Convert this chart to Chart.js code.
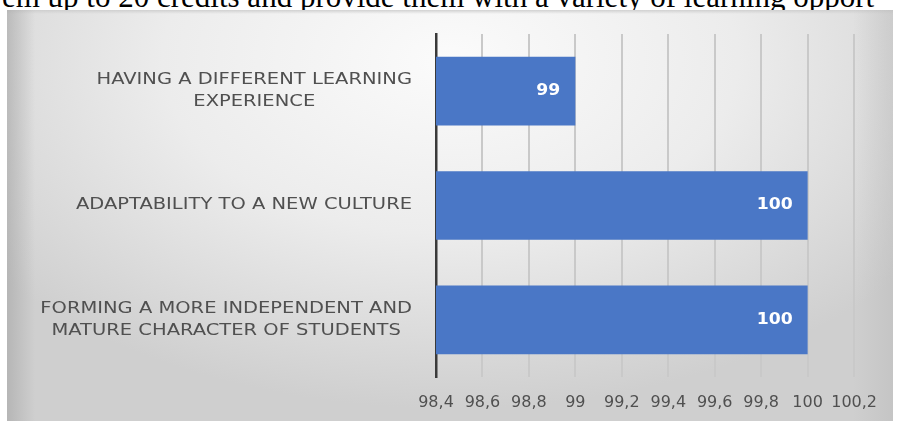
<!DOCTYPE html>
<html lang="en">
<head>
    <meta charset="UTF-8">
    <title>Benefits chart</title>
    <script src="https://cdn.jsdelivr.net/npm/chart.js"></script>
    <style>
        html, body {
            margin: 0;
            padding: 0;
            background: #ffffff;
            width: 898px;
            height: 421px;
            overflow: hidden;
            position: relative;
        }
        #topline {
            position: absolute;
            left: 2px;
            top: -16px;
            font-family: "Liberation Serif", serif;
            font-size: 31px;
            line-height: 26px;
            color: #000;
            white-space: nowrap;
        }
        #box {
            position: absolute;
            left: 7px;
            top: 10px;
            width: 886px;
            height: 411px;
            background:
                linear-gradient(to right, rgba(165,165,165,0.6) 0px, rgba(200,200,200,0) 28px),
                linear-gradient(to left, rgba(185,185,185,0.45) 0px, rgba(200,200,200,0) 40px),
                linear-gradient(to bottom, rgba(205,205,205,0.9) 0px, rgba(230,230,230,0) 4px),
                radial-gradient(ellipse 65% 85% at 50% 12%, #fbfbfb 0%, #ececec 50%, #cfcfcf 100%);
        }
    </style>
</head>
<body>
    <div id="topline">em up to 20 credits and provide them with a variety of learning opport</div>
    <div id="box"><canvas id="grafica"></canvas></div>

    <script>
        const categorias = [
            ["HAVING A DIFFERENT LEARNING", "EXPERIENCE"],
            ["ADAPTABILITY TO A NEW CULTURE"],
            ["FORMING A MORE INDEPENDENT AND", "MATURE CHARACTER OF STUDENTS"]
        ];
        const valores = [99, 100, 100];
        const ejeMin = 98.4;
        const ejeMax = 100.2;
        const ejePaso = 0.2;

        const colorTexto = "#505050";

        // etiquetas de categoria: bloque alineado a la derecha, lineas centradas
        const etiquetasY = {
            id: "etiquetasY",
            afterDraw(chart) {
                const ctx = chart.ctx;
                const y = chart.scales.y;
                const derecha = chart.chartArea.left - 24;
                const sx = 1.3;
                ctx.save();
                ctx.font = "15px 'DejaVu Sans'";
                ctx.fillStyle = colorTexto;
                ctx.textAlign = "center";
                ctx.textBaseline = "middle";
                categorias.forEach((lineas, i) => {
                    const yc = y.getPixelForValue(i);
                    const anchos = lineas.map(l => ctx.measureText(l).width * sx);
                    const bloque = Math.max(...anchos);
                    const xc = derecha - bloque / 2;
                    const alto = 22;
                    lineas.forEach((l, j) => {
                        const yy = yc + (j - (lineas.length - 1) / 2) * alto;
                        ctx.save();
                        ctx.translate(xc, yy);
                        ctx.scale(sx, 1);
                        ctx.fillText(l, 0, 0);
                        ctx.restore();
                    });
                });
                ctx.restore();
            }
        };

        // valores dentro del final de cada barra
        const etiquetasBarras = {
            id: "etiquetasBarras",
            afterDatasetsDraw(chart) {
                const ctx = chart.ctx;
                const meta = chart.getDatasetMeta(0);
                ctx.save();
                ctx.font = "bold 15px 'DejaVu Sans'";
                ctx.fillStyle = "#ffffff";
                ctx.textAlign = "right";
                ctx.textBaseline = "middle";
                meta.data.forEach((barra, i) => {
                    const txt = String(valores[i]);
                    ctx.save();
                    ctx.translate(barra.x - 15, barra.y);
                    ctx.scale(1.15, 1);
                    ctx.fillText(txt, 0, 0);
                    ctx.restore();
                });
                ctx.restore();
            }
        };

        new Chart(document.getElementById("grafica"), {
            type: "bar",
            data: {
                labels: categorias,
                datasets: [{
                    data: valores,
                    backgroundColor: "#4a77c6",
                    borderWidth: 0,
                    barPercentage: 0.6,
                    categoryPercentage: 1.0
                }]
            },
            options: {
                indexAxis: "y",
                responsive: true,
                maintainAspectRatio: false,
                animation: false,
                layout: { padding: { top: 24, right: 38, bottom: 0, left: 0 } },
                plugins: {
                    legend: { display: false },
                    tooltip: { enabled: false }
                },
                scales: {
                    x: {
                        min: ejeMin,
                        max: ejeMax,
                        ticks: {
                            stepSize: ejePaso,
                            color: colorTexto,
                            font: { family: "DejaVu Sans", size: 16 },
                            padding: 16,
                            maxRotation: 0,
                            autoSkip: false,
                            callback: v => String(Number(Number(v).toFixed(1))).replace(".", ",")
                        },
                        grid: { color: "#c9c9c9", lineWidth: 2, drawTicks: false },
                        border: { display: false },
                        afterFit: s => { s.height = 44; }
                    },
                    y: {
                        ticks: { display: false },
                        grid: { display: false },
                        border: { display: true, color: "#3a3a3a", width: 2.5 },
                        afterFit: s => { s.width = 429; }
                    }
                }
            },
            plugins: [etiquetasY, etiquetasBarras]
        });
    </script>
</body>
</html>
